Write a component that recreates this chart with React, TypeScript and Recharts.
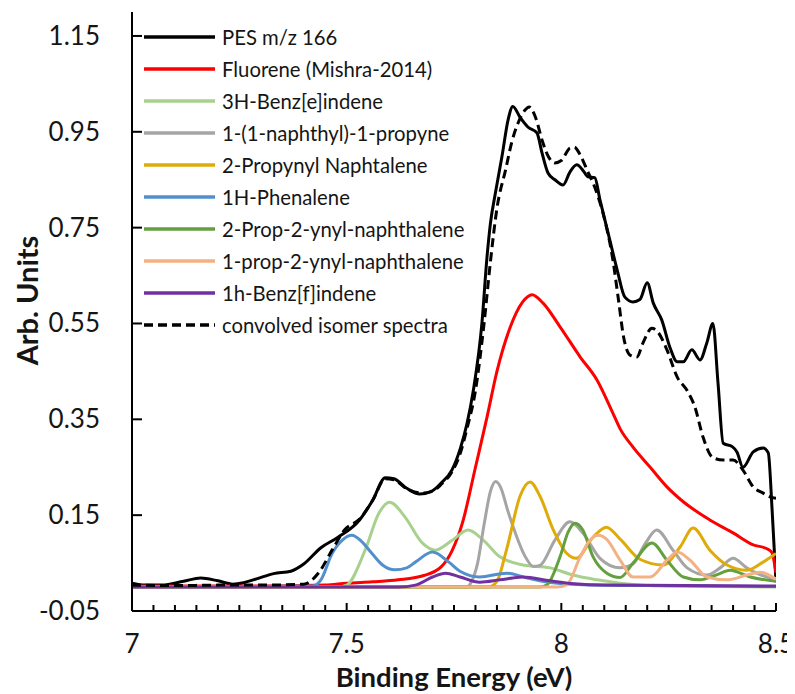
import React from "react";
import { LineChart, Line, XAxis, YAxis } from "recharts";

type Pt = [number, number];

// binding energy (eV), intensity (arb. units)
const pesM166: Pt[] = [
  [7.0, 0.008], [7.03, 0.004], [7.07, 0.004], [7.12, 0.012], [7.16, 0.019], [7.2, 0.013],
  [7.235, 0.006], [7.26, 0.009], [7.29, 0.017], [7.33, 0.028], [7.37, 0.033], [7.4, 0.048],
  [7.44, 0.082], [7.48, 0.104], [7.53, 0.14], [7.56, 0.18], [7.59, 0.228], [7.61, 0.226],
  [7.64, 0.206], [7.67, 0.194], [7.7, 0.201], [7.72, 0.217], [7.745, 0.244], [7.765, 0.29],
  [7.78, 0.34], [7.795, 0.41], [7.815, 0.55], [7.827, 0.69], [7.835, 0.76], [7.846, 0.82],
  [7.862, 0.9], [7.876, 0.975], [7.887, 1.003], [7.904, 0.98], [7.922, 0.96], [7.943, 0.948],
  [7.955, 0.906], [7.969, 0.864], [7.985, 0.85], [8.004, 0.839], [8.02, 0.866], [8.036, 0.881],
  [8.05, 0.87], [8.062, 0.856], [8.078, 0.854], [8.09, 0.808], [8.113, 0.724], [8.13, 0.662],
  [8.148, 0.605], [8.167, 0.595], [8.183, 0.6], [8.2, 0.635], [8.214, 0.593], [8.234, 0.557],
  [8.253, 0.5], [8.27, 0.47], [8.284, 0.47], [8.304, 0.495], [8.323, 0.474], [8.339, 0.51],
  [8.353, 0.55], [8.365, 0.425], [8.377, 0.3], [8.398, 0.293], [8.409, 0.282], [8.423, 0.25],
  [8.447, 0.282], [8.47, 0.29], [8.482, 0.28], [8.491, 0.16], [8.5, 0.01],
];

const fluorene: Pt[] = [
  [7.0, 0.002], [7.3, 0.002], [7.45, 0.004], [7.5, 0.008], [7.56, 0.011], [7.62, 0.015],
  [7.68, 0.024], [7.72, 0.042], [7.745, 0.075], [7.77, 0.135], [7.8, 0.25], [7.827, 0.355],
  [7.85, 0.45], [7.88, 0.54], [7.91, 0.595], [7.932, 0.61], [7.957, 0.593], [7.997, 0.543],
  [8.044, 0.48], [8.083, 0.432], [8.12, 0.363], [8.137, 0.33], [8.167, 0.292], [8.207, 0.25],
  [8.246, 0.209], [8.284, 0.178], [8.346, 0.14], [8.4, 0.113], [8.447, 0.088], [8.479, 0.08],
  [8.49, 0.073], [8.5, 0.03],
];

const benzEIndene: Pt[] = [
  [7.0, 0], [7.48, 0], [7.5, 0.004], [7.543, 0.077], [7.575, 0.154], [7.6, 0.177],
  [7.636, 0.146], [7.676, 0.092], [7.706, 0.077], [7.745, 0.097], [7.783, 0.119], [7.818, 0.098],
  [7.857, 0.063], [7.911, 0.046], [7.974, 0.04], [8.027, 0.025], [8.083, 0.015], [8.137, 0.008],
  [8.25, 0.002], [8.5, 0],
];

const naphthylPropyne: Pt[] = [
  [7.0, 0], [7.78, 0], [7.79, 0.01], [7.805, 0.05], [7.82, 0.13], [7.835, 0.2], [7.847, 0.22],
  [7.86, 0.205], [7.875, 0.16], [7.894, 0.11], [7.915, 0.065], [7.935, 0.043], [7.95, 0.045],
  [7.985, 0.098], [8.02, 0.136], [8.05, 0.113], [8.09, 0.06], [8.137, 0.04], [8.167, 0.048],
  [8.195, 0.09], [8.222, 0.119], [8.26, 0.077], [8.293, 0.04], [8.339, 0.025], [8.37, 0.04],
  [8.4, 0.06], [8.432, 0.04], [8.479, 0.021], [8.5, 0.018],
];

const propynylNaphtalene: Pt[] = [
  [7.0, 0], [7.83, 0], [7.85, 0.012], [7.873, 0.08], [7.904, 0.19], [7.927, 0.219], [7.95, 0.19],
  [7.981, 0.12], [8.013, 0.07], [8.035, 0.06], [8.074, 0.104], [8.105, 0.125], [8.137, 0.1],
  [8.183, 0.058], [8.237, 0.046], [8.277, 0.084], [8.307, 0.123], [8.346, 0.077], [8.386, 0.046],
  [8.432, 0.035], [8.47, 0.052], [8.5, 0.07],
];

const phenalene: Pt[] = [
  [7.0, 0], [7.42, 0.002], [7.44, 0.015], [7.466, 0.07], [7.49, 0.098], [7.512, 0.108],
  [7.535, 0.095], [7.559, 0.07], [7.585, 0.045], [7.612, 0.036], [7.64, 0.04], [7.66, 0.052],
  [7.7, 0.073], [7.738, 0.052], [7.764, 0.033], [7.81, 0.021], [7.873, 0.029], [7.92, 0.019],
  [7.97, 0.01], [8.05, 0.005], [8.2, 0.003], [8.5, 0.001],
];

const prop2ynyl2: Pt[] = [
  [7.0, 0], [7.95, 0], [7.967, 0.005], [7.997, 0.063], [8.016, 0.115], [8.032, 0.133],
  [8.05, 0.119], [8.074, 0.063], [8.106, 0.029], [8.137, 0.02], [8.167, 0.05], [8.211, 0.092],
  [8.246, 0.056], [8.284, 0.021], [8.323, 0.015], [8.36, 0.025], [8.393, 0.035], [8.44, 0.021],
  [8.5, 0.012],
];

const prop2ynyl1: Pt[] = [
  [7.0, 0], [7.99, 0], [8.013, 0.005], [8.044, 0.063], [8.067, 0.098], [8.086, 0.108],
  [8.105, 0.1], [8.137, 0.056], [8.167, 0.021], [8.207, 0.021], [8.246, 0.056], [8.27, 0.073],
  [8.3, 0.056], [8.339, 0.021], [8.386, 0.015], [8.432, 0.025], [8.463, 0.031], [8.5, 0.016],
];

const benzFIndene: Pt[] = [
  [7.0, 0], [7.62, 0], [7.66, 0.004], [7.7, 0.021], [7.73, 0.029], [7.764, 0.021], [7.81, 0.01],
  [7.857, 0.015], [7.91, 0.021], [7.974, 0.013], [8.03, 0.007], [8.1, 0.004], [8.5, 0.002],
];

const convolved: Pt[] = [
  [7.0, 0.004], [7.1, 0.003], [7.2, 0.004], [7.3, 0.004], [7.4, 0.006], [7.435, 0.03],
  [7.466, 0.077], [7.496, 0.12], [7.53, 0.142], [7.56, 0.18], [7.59, 0.226], [7.61, 0.224],
  [7.64, 0.205], [7.676, 0.196], [7.7, 0.2], [7.72, 0.214], [7.745, 0.24], [7.765, 0.28],
  [7.78, 0.33], [7.8, 0.41], [7.82, 0.55], [7.835, 0.68], [7.85, 0.79], [7.87, 0.87],
  [7.885, 0.93], [7.9, 0.97], [7.915, 0.995], [7.925, 1.002], [7.94, 0.98], [7.955, 0.933],
  [7.97, 0.898], [7.985, 0.885], [8.0, 0.89], [8.02, 0.916], [8.03, 0.918], [8.045, 0.9],
  [8.06, 0.87], [8.08, 0.829], [8.1, 0.77], [8.12, 0.683], [8.133, 0.6], [8.145, 0.522],
  [8.16, 0.484], [8.176, 0.48], [8.19, 0.509], [8.211, 0.54], [8.225, 0.532], [8.246, 0.495],
  [8.27, 0.438], [8.293, 0.41], [8.311, 0.376], [8.33, 0.313], [8.353, 0.27], [8.377, 0.265],
  [8.4, 0.265], [8.423, 0.244], [8.447, 0.209], [8.47, 0.196], [8.486, 0.188], [8.5, 0.185],
];

const xTicks = [
  7, 7.05, 7.1, 7.15, 7.2, 7.25, 7.3, 7.35, 7.4, 7.45, 7.5, 7.55, 7.6, 7.65, 7.7, 7.75,
  7.8, 7.85, 7.9, 7.95, 8, 8.05, 8.1, 8.15, 8.2, 8.25, 8.3, 8.35, 8.4, 8.45, 8.5,
];
const xTickLabels = [7, 7.5, 8, 8.5];
const yTicks = [-0.05, 0.15, 0.35, 0.55, 0.75, 0.95, 1.15];

const series = [
  { name: "PES m/z 166", points: pesM166, color: "#000000" },
  { name: "Fluorene (Mishra-2014)", points: fluorene, color: "#ff0000" },
  { name: "3H-Benz[e]indene", points: benzEIndene, color: "#a9d18e" },
  { name: "1-(1-naphthyl)-1-propyne", points: naphthylPropyne, color: "#a5a5a5" },
  { name: "2-Propynyl Naphtalene", points: propynylNaphtalene, color: "#dfab08" },
  { name: "1H-Phenalene", points: phenalene, color: "#5190cc" },
  { name: "2-Prop-2-ynyl-naphthalene", points: prop2ynyl2, color: "#64a03e" },
  { name: "1-prop-2-ynyl-naphthalene", points: prop2ynyl1, color: "#f4b183" },
  { name: "1h-Benz[f]indene", points: benzFIndene, color: "#7030a0" },
  { name: "convolved isomer spectra", points: convolved, color: "#000000", dash: "9 5" },
];

const FONT = "Lato, 'Open Sans', sans-serif";
const TEXT = "#151515";

const toRows = (pts: Pt[]) => pts.map(([x, y]) => ({ x, y }));

const YTick = (props: any) => {
  const { x, y, payload } = props;
  return (
    <g>
      <line x1={x} x2={x + 10} y1={y} y2={y} stroke="#000" strokeWidth={2} />
      <text x={x - 32} y={y + 9} textAnchor="end" fontSize={26} fill={TEXT} fontFamily={FONT}>
        {Number(payload.value).toFixed(2)}
      </text>
    </g>
  );
};

const XTick = (props: any) => {
  const { x, y, payload } = props;
  const v = Number(payload.value);
  const labelled = xTickLabels.some((l) => Math.abs(l - v) < 1e-6);
  return (
    <g>
      <line x1={x} x2={x} y1={y} y2={y - (labelled ? 8 : 6)} stroke="#000" strokeWidth={2} />
      {labelled && (
        <text x={x} y={y + 42} textAnchor="middle" fontSize={26} fill={TEXT} fontFamily={FONT}>
          {String(v)}
        </text>
      )}
    </g>
  );
};

const XTitle = (props: any) => {
  const { viewBox } = props;
  return (
    <text
      x={viewBox.x + viewBox.width / 2}
      y={viewBox.y + 76}
      textAnchor="middle"
      fontSize={27.5}
      fontWeight={700}
      fill={TEXT}
      fontFamily={FONT}
    >
      Binding Energy (eV)
    </text>
  );
};

const YTitle = (props: any) => {
  const { viewBox } = props;
  const cx = 18;
  const cy = viewBox.y + viewBox.height / 2 - 11;
  return (
    <text
      x={cx}
      y={cy}
      transform={`rotate(-90 ${cx} ${cy})`}
      textAnchor="middle"
      dominantBaseline="central"
      fontSize={29}
      fontWeight={700}
      fill={TEXT}
      fontFamily={FONT}
    >
      Arb. Units
    </text>
  );
};

export default function App() {
  return (
    <div style={{ position: "relative", width: 787, height: 686, fontFamily: FONT }}>
      <LineChart width={787} height={686} margin={{ top: 4, right: 19, bottom: 0, left: 0 }}>
        <XAxis
          dataKey="x"
          type="number"
          domain={[7, 8.5]}
          ticks={xTicks}
          interval={0}
          allowDataOverflow
          height={83}
          tickSize={0}
          tickMargin={0}
          tickLine={false}
          tick={<XTick />}
          axisLine={{ stroke: "#000", strokeWidth: 2 }}
          label={<XTitle />}
        />
        <XAxis
          xAxisId="top"
          orientation="top"
          type="number"
          domain={[7, 8.5]}
          height={0}
          tick={false}
          tickLine={false}
          axisLine={{ stroke: "#000", strokeWidth: 2 }}
        />
        <YAxis
          type="number"
          domain={[-0.05, 1.2]}
          ticks={yTicks}
          interval={0}
          allowDataOverflow
          width={124}
          tickSize={0}
          tickMargin={0}
          tickLine={false}
          tick={<YTick />}
          axisLine={{ stroke: "#000", strokeWidth: 2 }}
          label={<YTitle />}
        />
        <YAxis
          yAxisId="right"
          orientation="right"
          type="number"
          domain={[-0.05, 1.2]}
          width={0}
          tick={false}
          tickLine={false}
          axisLine={{ stroke: "#000", strokeWidth: 2 }}
        />
        {series.map((s) => (
          <Line
            key={s.name}
            name={s.name}
            data={toRows(s.points)}
            dataKey="y"
            type="monotone"
            stroke={s.color}
            strokeWidth={3}
            strokeDasharray={s.dash}
            dot={false}
            activeDot={false}
            isAnimationActive={false}
          />
        ))}
      </LineChart>

      <div style={{ position: "absolute", left: 136, top: 13 }}>
        {series.map((s) => (
          <div key={s.name} style={{ display: "flex", alignItems: "center", height: 32 }}>
            <svg width={71} height={6} style={{ marginRight: 7 }}>
              <line
                x1={0}
                x2={71}
                y1={3}
                y2={3}
                stroke={s.color}
                strokeWidth={3.5}
                strokeDasharray={s.dash}
              />
            </svg>
            <span style={{ fontSize: 20.3, color: TEXT, whiteSpace: "nowrap" }}>{s.name}</span>
          </div>
        ))}
      </div>
    </div>
  );
}
